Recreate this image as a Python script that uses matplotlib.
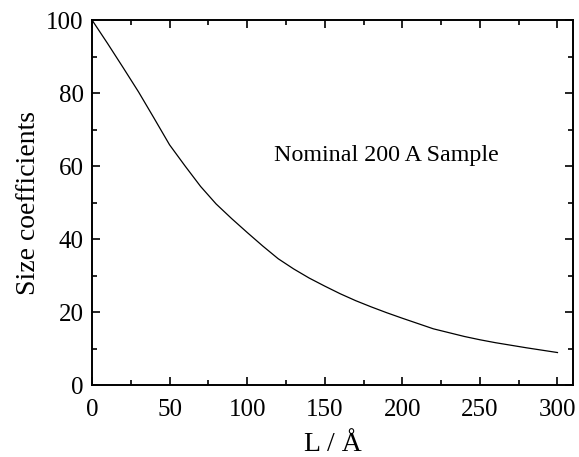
import matplotlib
matplotlib.use('Agg')
import matplotlib.pyplot as plt
from matplotlib.ticker import MultipleLocator

plt.rcParams['font.family'] = ['Liberation Serif', 'DejaVu Serif']

# size coefficient curve
L = [0, 10, 20, 30, 40, 50, 60, 70, 80, 90, 100, 110, 120, 130, 140, 150,
     160, 170, 180, 190, 200, 220, 240, 250, 260, 270, 280, 300]
coeff = [100, 93.6, 87.0, 80.3, 73.1, 65.8, 60.0, 54.4, 49.6, 45.6, 41.8,
         38.1, 34.6, 31.8, 29.3, 27.1, 25.0, 23.1, 21.4, 19.8, 18.3, 15.4,
         13.3, 12.4, 11.6, 10.9, 10.2, 8.9]

fig = plt.figure(figsize=(5.79, 4.57), dpi=100)
ax = fig.add_axes([0.1589, 0.1575, 0.8307, 0.7987])
ax.plot(L, coeff, color='black', lw=0.9)

ax.set_xlim(0, 310)
ax.set_ylim(0, 100)
ax.xaxis.set_minor_locator(MultipleLocator(25))
ax.yaxis.set_major_locator(MultipleLocator(20))
ax.yaxis.set_minor_locator(MultipleLocator(10))
ax.set_xticks([0, 50, 100, 150, 200, 250, 300])
ax.tick_params(which='both', direction='in', top=True, right=True, width=1.2,
               labelsize=18)
ax.tick_params(which='major', length=6, pad=6)
ax.tick_params(axis='x', which='major', pad=10)
ax.tick_params(which='minor', length=3.5)
for s in ax.spines.values():
    s.set_linewidth(1.4)

ax.set_xlabel('L / Å', fontsize=20, labelpad=8)
ax.set_ylabel('Size coefficients', fontsize=20, labelpad=4)
ax.text(117, 62.8, 'Nominal 200 A Sample', fontsize=17.3, ha='left', va='center')

fig.savefig('out.png', dpi=100)
